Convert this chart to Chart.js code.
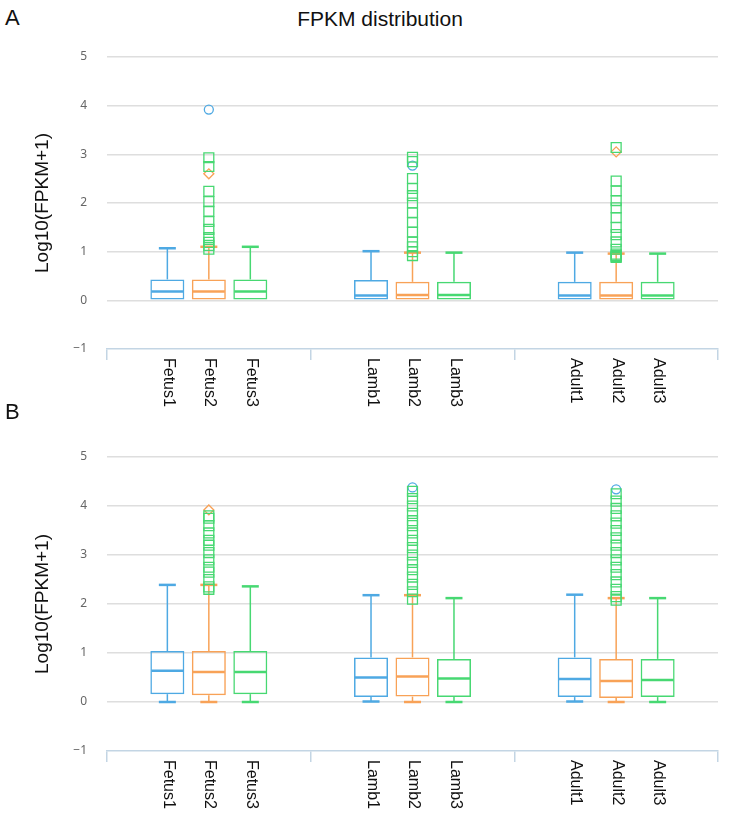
<!DOCTYPE html>
<html>
<head>
<meta charset="utf-8">
<script src="https://cdn.jsdelivr.net/npm/chart.js@4.4.0/dist/chart.umd.min.js"></script>
<style>
  body { margin: 0; background: #fff; width: 731px; height: 815px; overflow: hidden; position: relative; font-family: 'Liberation Sans', Arial, sans-serif; }
  .panel { position: absolute; left: 0; width: 731px; }
  .tag { position: absolute; left: 5px; font-size: 22px; color: #111; }
  #title { position: absolute; top: 7px; left: 0; width: 760px; text-align: center; font-size: 21px; color: #111; }
</style>
</head>
<body>
<div class="tag" style="top:5px">A</div>
<div id="title">FPKM distribution</div>
<div class="panel" style="top:0;height:415px"><canvas id="chartA"></canvas></div>
<div class="tag" style="top:399px">B</div>
<div class="panel" style="top:405px;height:410px"><canvas id="chartB"></canvas></div>
<script>
// categories and replicates
const groups = ['Fetus', 'Lamb', 'Adult'];
const reps = ['1', '2', '3'];
const colors = ['#4ea9e3', '#f8a257', '#47d872'];

// panel A box stats: rows = replicate 1..3, cols = Fetus, Lamb, Adult
const aMin = [[0, 0, 0], [0, 0, 0], [0, 0, 0]];
const aQ1 = [[0, 0, 0], [0, 0, 0], [0, 0, 0]];
const aMed = [[0.18, 0.10, 0.10], [0.18, 0.11, 0.10], [0.18, 0.11, 0.10]];
const aQ3 = [[0.43, 0.42, 0.38], [0.43, 0.38, 0.38], [0.43, 0.38, 0.38]];
const aMax = [[1.07, 1.01, 0.98], [1.10, 0.98, 0.96], [1.10, 0.98, 0.96]];

// panel A outliers per replicate: [Fetus, Lamb, Adult]
const aOut1 = [[3.92], [2.77], []];
const aOut2 = [[2.6], [], [3.05]];
const aOut3 = [
  [1.05, 1.13, 1.19, 1.29, 1.46, 1.62, 1.83, 2.03, 2.24, 2.75, 2.93],
  [0.92, 1.0, 1.1, 1.2, 1.4, 1.6, 1.8, 2.0, 2.15, 2.3, 2.5, 2.85, 2.94],
  [0.88, 0.9, 0.92, 0.95, 1.05, 1.2, 1.35, 1.5, 1.7, 1.9, 2.05, 2.25, 2.45, 3.14]
];

// panel B box stats
const bMin = [[0, 0.01, 0.01], [0, 0, 0], [0, 0, 0]];
const bQ1 = [[0.16, 0.10, 0.10], [0.14, 0.11, 0.08], [0.16, 0.10, 0.10]];
const bMed = [[0.64, 0.50, 0.47], [0.61, 0.52, 0.43], [0.61, 0.48, 0.45]];
const bQ3 = [[1.04, 0.91, 0.91], [1.04, 0.91, 0.88], [1.04, 0.88, 0.88]];
const bMax = [[2.39, 2.18, 2.19], [2.39, 2.18, 2.12], [2.36, 2.12, 2.12]];

// panel B outliers
const bOut1 = [[], [4.38], [4.34]];
const bOut2 = [[3.92], [], []];
const bOut3 = [
  [2.3, 2.35, 2.5, 2.65, 2.75, 2.9, 3.05, 3.2, 3.3, 3.45, 3.6, 3.75, 3.8],
  [2.1, 2.25, 2.4, 2.55, 2.7, 2.85, 3.0, 3.15, 3.3, 3.45, 3.6, 3.7, 3.85, 4.0, 4.15, 4.3],
  [2.08, 2.15, 2.3, 2.45, 2.6, 2.75, 2.9, 3.05, 3.2, 3.35, 3.5, 3.65, 3.8, 3.95, 4.1, 4.25]
];

const axisBlue = '#c3d5e4';

function line(ctx, x1, y1, x2, y2, w) {
  ctx.lineWidth = w;
  ctx.beginPath();
  ctx.moveTo(x1, y1);
  ctx.lineTo(x2, y2);
  ctx.stroke();
}

// medians, whiskers and caps on top of each box dataset
function boxPlugin(st) {
  return {
    id: 'boxes',
    afterDatasetDraw(chart, args) {
      if (args.meta.type !== 'bar') return;
      const j = args.index, y = chart.scales.y, ctx = chart.ctx;
      ctx.save();
      ctx.strokeStyle = colors[j];
      args.meta.data.forEach((el, i) => {
        const half = el.width / 2;
        const yMed = y.getPixelForValue(st.med[j][i]);
        line(ctx, el.x - half + 1, yMed, el.x + half - 1, yMed, 2.5);
        const yQ3 = y.getPixelForValue(st.q3[j][i]);
        const yMax = y.getPixelForValue(st.max[j][i]);
        line(ctx, el.x, yQ3, el.x, yMax, 1.5);
        line(ctx, el.x - half / 2, yMax, el.x + half / 2, yMax, 2.5);
        if (st.min[j][i] < st.q1[j][i]) {
          const yQ1 = y.getPixelForValue(st.q1[j][i]);
          const yMin = y.getPixelForValue(st.min[j][i]);
          line(ctx, el.x, yQ1, el.x, yMin, 1.5);
          line(ctx, el.x - half / 2, yMin, el.x + half / 2, yMin, 2.5);
        }
      });
      ctx.restore();
    }
  };
}

// vertical sample names under each box
const labelPlugin = {
  id: 'rotLabels',
  afterDraw(chart) {
    const ctx = chart.ctx, top = chart.scales.x.top;
    ctx.save();
    ctx.font = '16px "Liberation Sans", Arial, sans-serif';
    ctx.fillStyle = '#111';
    ctx.textAlign = 'left';
    ctx.textBaseline = 'middle';
    chart.data.datasets.forEach((ds, j) => {
      if (ds.type !== 'bar') return;
      chart.getDatasetMeta(j).data.forEach((el, i) => {
        ctx.save();
        ctx.translate(el.x + 1, top + 9);
        ctx.rotate(Math.PI / 2);
        ctx.fillText(groups[i] + reps[j], 0, 0);
        ctx.restore();
      });
    });
    ctx.restore();
  }
};

function outlierSet(out, k, style, radius, order) {
  let pts = [];
  out.forEach((vals, i) => vals.forEach(v => pts.push({ x: groups[i], y: v })));
  return {
    type: 'line',
    data: pts,
    showLine: false,
    pointStyle: style,
    pointRadius: radius,
    pointBorderWidth: 1.3,
    borderColor: colors[k],
    backgroundColor: 'rgba(0,0,0,0)',
    order: order
  };
}

function makeChart(id, st, outs, padTop, xHeight) {
  let datasets = [];
  for (let j = 0; j < 3; j++) {
    datasets.push({
      type: 'bar',
      data: groups.map((g, i) => [st.q1[j][i], st.q3[j][i]]),
      backgroundColor: 'rgba(0,0,0,0)',
      borderColor: colors[j],
      borderWidth: 1.5,
      borderSkipped: false,
      categoryPercentage: 0.611,
      barPercentage: 0.82,
      order: 10
    });
  }
  datasets.push(outlierSet(outs[1], 1, 'rectRot', 5, 3));
  datasets.push(outlierSet(outs[0], 0, 'circle', 4.5, 2));
  datasets.push(outlierSet(outs[2], 2, 'rect', 7, 1));

  return new Chart(document.getElementById(id), {
    type: 'bar',
    data: { labels: groups, datasets: datasets },
    options: {
      responsive: true,
      maintainAspectRatio: false,
      animation: false,
      events: [],
      layout: { padding: { top: padTop, right: 13, left: 27, bottom: 0 } },
      plugins: { legend: { display: false }, tooltip: { enabled: false } },
      scales: {
        x: {
          type: 'category',
          offset: true,
          grid: { offset: true, drawOnChartArea: false, drawTicks: true, tickLength: 11, color: axisBlue, lineWidth: 1.5 },
          border: { display: true, color: axisBlue, width: 1.5 },
          ticks: { display: false },
          afterFit: s => { s.height = xHeight; }
        },
        y: {
          min: -1,
          max: 5,
          ticks: {
            stepSize: 1,
            padding: 20,
            color: '#666',
            font: { family: '"Noto Sans", sans-serif', size: 12 },
            callback: v => v < 0 ? '\u2212' + Math.abs(v) : String(v)
          },
          grid: {
            drawTicks: false,
            lineWidth: 1.5,
            color: c => c.tick && c.tick.value === -1 ? 'rgba(0,0,0,0)' : '#dedede'
          },
          border: { display: false },
          title: {
            display: true,
            text: 'Log10(FPKM+1)',
            color: '#111',
            font: { family: '"Liberation Sans", Arial, sans-serif', size: 19 }
          },
          afterFit: s => { s.width = 80; }
        }
      }
    },
    plugins: [boxPlugin(st), labelPlugin]
  });
}

makeChart('chartA', { min: aMin, q1: aQ1, med: aMed, q3: aQ3, max: aMax }, [aOut1, aOut2, aOut3], 57, 66);
makeChart('chartB', { min: bMin, q1: bQ1, med: bMed, q3: bQ3, max: bMax }, [bOut1, bOut2, bOut3], 52, 64);
</script>
</body>
</html>
